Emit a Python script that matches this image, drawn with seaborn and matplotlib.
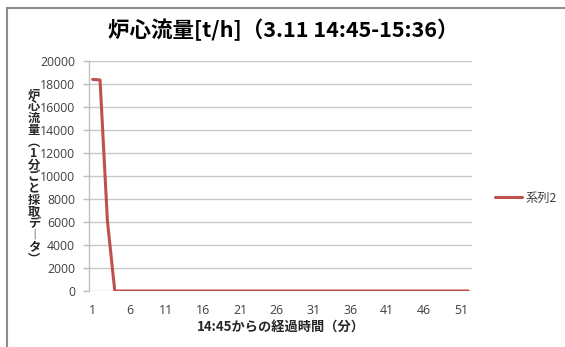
import matplotlib
matplotlib.use("Agg")
import matplotlib.pyplot as plt
from matplotlib.lines import Line2D
import seaborn as sns
import pandas as pd

# Core flow readings, one per minute from 14:45 (t/h)
minutes = list(range(1, 53))
flow = [18400, 18350, 6100] + [0] * 49
series_name = "系列2"

title = "炉心流量[t/h]（3.11 14:45-15:36）"
x_label = "14:45からの経過時間（分）"
y_label_chars = ["炉", "心", "流", "量", "︵", "1", "分", "ご", "と", "採", "取", "デ", "︱", "タ", "︶"]
x_ticks = list(range(1, 52, 5))
y_ticks = list(range(0, 20001, 2000))

sns.set_style("white")
plt.rcParams["font.family"] = ["Noto Sans CJK JP", "DejaVu Sans"]

df = pd.DataFrame({"minute": minutes, "flow": flow, "series": series_name})

fig = plt.figure(figsize=(5.65, 3.47), dpi=100)
ax = fig.add_axes([89 / 565, 1 - 291 / 347, (472 - 89) / 565, (291 - 61) / 347])

sns.lineplot(data=df, x="minute", y="flow", hue="series", palette=["#C0504D"],
             linewidth=2.2, ax=ax, legend=False)

ax.set_xlim(0.5, 52.5)
ax.set_ylim(0, 20000)
ax.set_xticks(x_ticks)
ax.set_xticklabels([str(t) for t in x_ticks])
ax.set_yticks(y_ticks)
ax.set_yticklabels([str(t) for t in y_ticks])
ax.yaxis.grid(True, color="#C8C8C8", linewidth=1.0)
ax.set_axisbelow(True)

for side in ["top", "right", "bottom"]:
    ax.spines[side].set_visible(False)
ax.spines["left"].set_color("#BFBFBF")
ax.spines["left"].set_linewidth(1.0)

ax.tick_params(axis="y", length=4, color="#BFBFBF", width=1.0, pad=6,
               labelsize=8.8, labelcolor="#404040", left=True)
ax.tick_params(axis="x", length=0, pad=9, labelsize=8.8, labelcolor="#404040")
for lbl in ax.get_xticklabels() + ax.get_yticklabels():
    lbl.set_family(["Open Sans", "DejaVu Sans"])

ax.set_xlabel(x_label, fontsize=9.5, fontweight="bold", labelpad=2)
ax.set_ylabel("")

fig.text(283 / 565, 1 - 30 / 347, title, ha="center", va="center",
         fontsize=15.5, fontweight="bold", color="#000000")

fig.text(34 / 565, 1 - 177 / 347, "\n".join(y_label_chars), ha="center", va="center",
         fontsize=8.8, fontweight="bold", linespacing=0.87)

handle = Line2D([], [], color="#C0504D", linewidth=2.2)
fig.legend([handle], [series_name], loc="center left",
           bbox_to_anchor=(484 / 565, 1 - 198 / 347), frameon=False,
           handlelength=2.2, handletextpad=0.3, fontsize=8.8,
           labelcolor="#404040")

# outer frame (top and left edges)
fig.add_artist(Line2D([6.5 / 565, 6.5 / 565], [0, 1 - 7.5 / 347],
                      transform=fig.transFigure, color="#8C8C8C", linewidth=1.5))
fig.add_artist(Line2D([6.5 / 565, 1], [1 - 7.5 / 347, 1 - 7.5 / 347],
                      transform=fig.transFigure, color="#8C8C8C", linewidth=1.5))

fig.savefig("out.png", dpi=100)
